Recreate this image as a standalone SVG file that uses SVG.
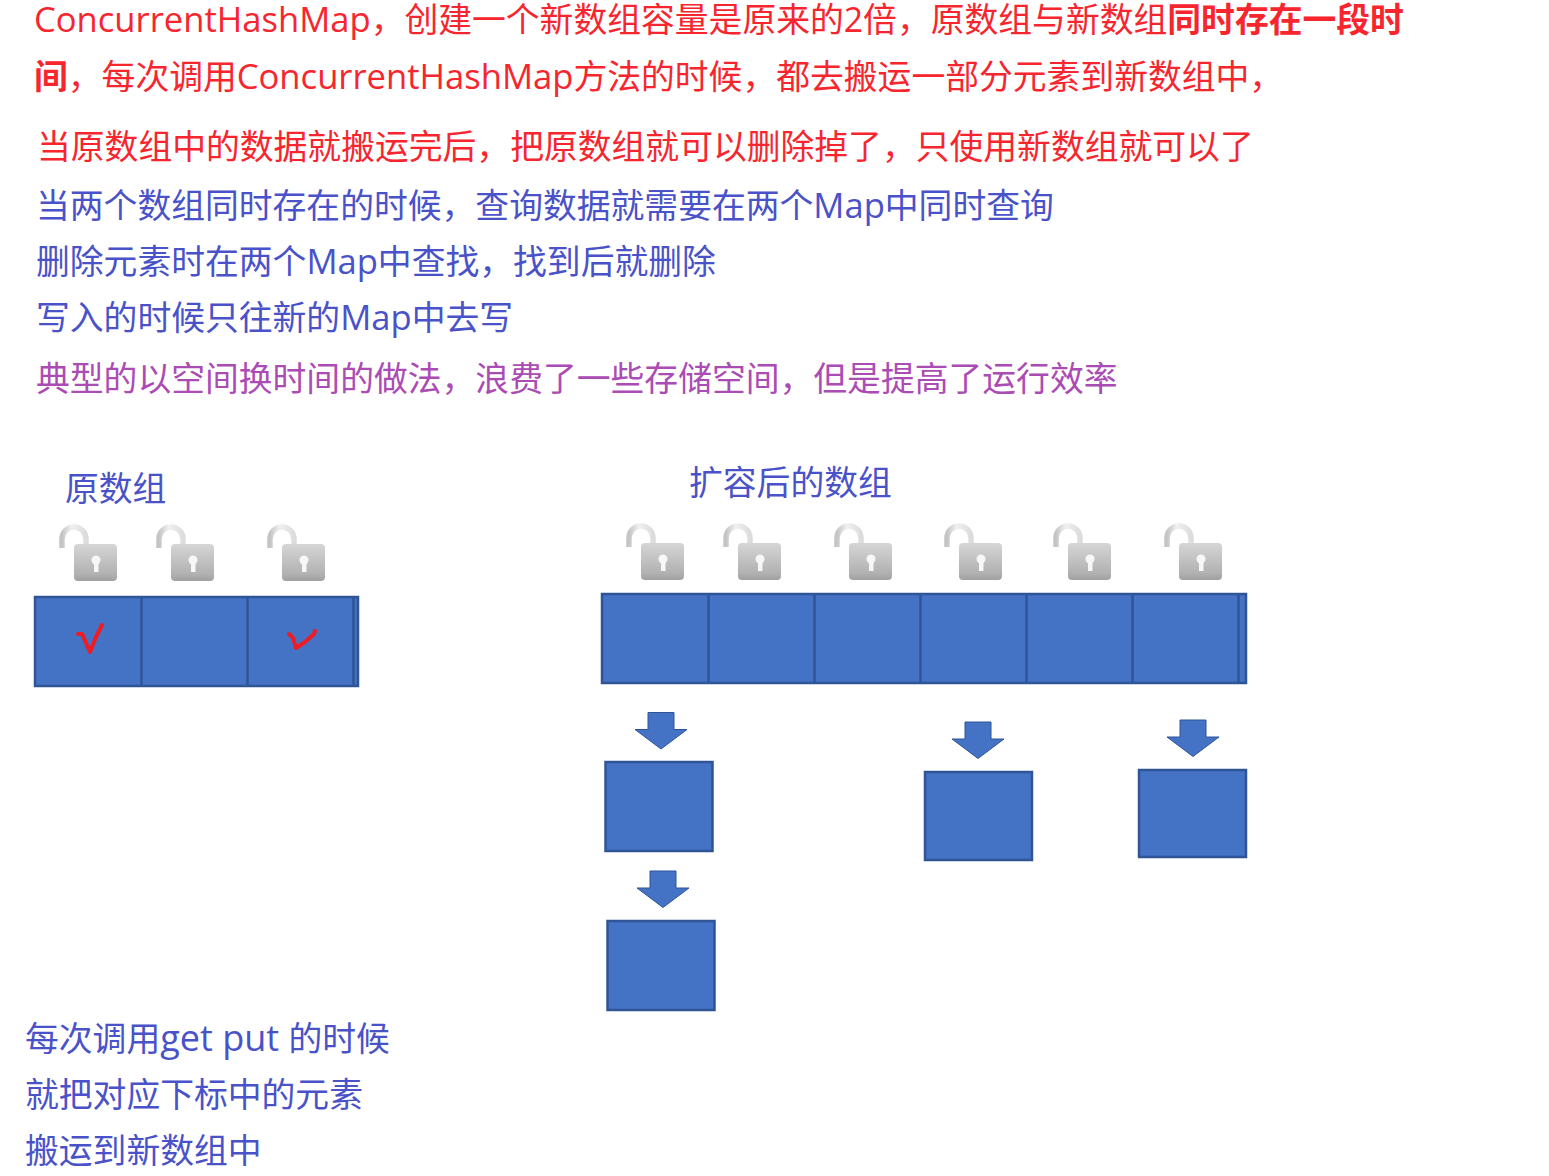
<svg xmlns="http://www.w3.org/2000/svg" width="1549" height="1176" viewBox="0 0 1549 1176">
<style>
text{font-family:"Open Sans","Noto Sans CJK SC",sans-serif;font-size:33.8px}
.l{font-size:34.6px}
.r{fill:#f7262e}.b{fill:#4a52c9}.p{fill:#ab4cb5}
.bold{font-weight:700}
.cell{fill:#4472c4;stroke:#2f5597;stroke-width:2.5}
.div{stroke:#2f5597;stroke-width:2.5;fill:none}
.chk{fill:none;stroke:#ee1c25;stroke-width:4;stroke-linecap:round;stroke-linejoin:round}
</style>
<defs>
<linearGradient id="bodyG" x1="0" y1="0" x2="0" y2="1"><stop offset="0" stop-color="#d6d6d6"/><stop offset=".8" stop-color="#b2b2b2"/><stop offset="1" stop-color="#a0a0a0"/></linearGradient>
<linearGradient id="shG" x1="0" y1="0" x2="1" y2="0"><stop offset="0" stop-color="#c4c4c4"/><stop offset=".4" stop-color="#f0f0f0"/><stop offset="1" stop-color="#dcdcdc"/></linearGradient>
<symbol id="lock" overflow="visible" width="60" height="58">
<path d="M3 23V14a12 12 0 0 1 24 0V20" fill="none" stroke="url(#shG)" stroke-width="5.500"/>
<rect x="15" y="19" width="43" height="37" rx="4" fill="url(#bodyG)"/>
<circle cx="37" cy="35" r="4.500" fill="#f7f7f7"/>
<rect x="35" y="36" width="4.500" height="11" fill="#f7f7f7"/>
</symbol>
<path id="arrow" d="M-13 0H13V17H26L0 36.500L-26 17H-13Z" fill="#4472c4" stroke="#2f5597" stroke-width="1"/>
</defs>
<g id="notes">
<text class="r" x="34" y="32"><tspan class="l">ConcurrentHashMap</tspan>，创建一个新数组容量是原来的2倍，原数组与新数组<tspan class="bold">同时存在一段时</tspan></text>
<text class="r" x="34" y="89"><tspan class="bold">间</tspan>，每次调用<tspan class="l">ConcurrentHashMap</tspan>方法的时候，都去搬运一部分元素到新数组中，</text>
<text class="r" x="37" y="159">当原数组中的数据就搬运完后，把原数组就可以删除掉了，只使用新数组就可以了</text>
<text class="b" x="36" y="218">当两个数组同时存在的时候，查询数据就需要在两个<tspan class="l">Map</tspan>中同时查询</text>
<text class="b" x="36" y="274">删除元素时在两个<tspan class="l">Map</tspan>中查找，找到后就删除</text>
<text class="b" x="36" y="330">写入的时候只往新的<tspan class="l">Map</tspan>中去写</text>
<text class="p" x="36" y="391">典型的以空间换时间的做法，浪费了一些存储空间，但是提高了运行效率</text>
<text class="b" x="25" y="1051">每次调用<tspan style="font-size:36px">get put </tspan>的时候</text>
<text class="b" x="25" y="1107">就把对应下标中的元素</text>
<text class="b" x="25" y="1163">搬运到新数组中</text>
</g>
<g id="old-array">
<text class="b" x="65" y="501">原数组</text>
<use href="#lock" x="59" y="525"/><use href="#lock" x="156" y="525"/><use href="#lock" x="267" y="525"/>
<rect class="cell" x="35" y="597" width="323" height="89"/>
<path class="div" d="M141.500 597V686M247.500 597V686M353.500 597V686"/>
<path class="chk" d="M78 634L82 634L90 652L96 637L102 625"/>
<path class="chk" d="M289 634L293 638L296 648L305 642L314 634L315 631"/>
</g>
<g id="new-array">
<text class="b" x="689" y="495">扩容后的数组</text>
<use href="#lock" x="626" y="524"/><use href="#lock" x="723" y="524"/><use href="#lock" x="834" y="524"/><use href="#lock" x="944" y="524"/><use href="#lock" x="1053" y="524"/><use href="#lock" x="1164" y="524"/>
<rect class="cell" x="602" y="594" width="644" height="89"/>
<path class="div" d="M708.500 594V683M814.500 594V683M920.500 594V683M1026.500 594V683M1132.500 594V683M1238.500 594V683"/>
</g>
<g id="bucket-1"><use href="#arrow" x="661" y="712.500"/><rect class="cell" x="605.500" y="762" width="107" height="89"/></g>
<g id="bucket-1b"><use href="#arrow" x="663" y="871"/><rect class="cell" x="607.500" y="921" width="107" height="89"/></g>
<g id="bucket-2"><use href="#arrow" x="978" y="722"/><rect class="cell" x="925" y="772" width="107" height="88"/></g>
<g id="bucket-3"><use href="#arrow" x="1193" y="720"/><rect class="cell" x="1139" y="770" width="107" height="87"/></g>
</svg>
